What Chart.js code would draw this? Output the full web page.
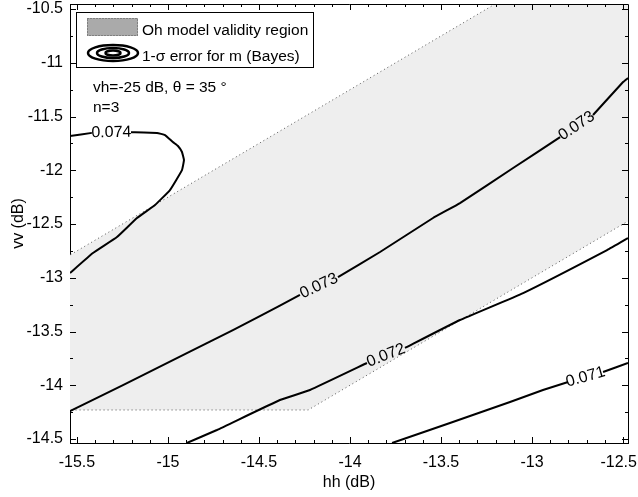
<!DOCTYPE html>
<html>
<head>
<meta charset="utf-8">
<script src="https://cdn.jsdelivr.net/npm/chart.js@4.4.1/dist/chart.umd.min.js"></script>
<style>
  html, body { margin: 0; padding: 0; background: #fff; }
</style>
</head>
<body>
<canvas id="chart" width="638" height="497"></canvas>
<script>
// axis ticks
const xTicks = [-15.5, -15, -14.5, -14, -13.5, -13, -12.5];
const yTicks = [-10.5, -11, -11.5, -12, -12.5, -13, -13.5, -14, -14.5];

// Oh model validity region (hh, vv), outline runs past the axes and gets clipped
const regionHh = [-15.80, -13.00, -12.20, -12.20, -14.23, -15.80];
const regionVv = [-13.05, -10.25, -10.25, -12.20, -14.23, -14.23];

// contour lines of the 1-sigma error, null = gap for the label
const c074Hh = [-15.538, -15.418, null, -15.203, -15.060, -15.016, -14.973, -14.945, -14.923, -14.912, -14.923, -14.989, -15.071, -15.170, -15.280, -15.412, -15.538];
const c074Vv = [-11.681, -11.652, null, -11.646, -11.653, -11.672, -11.737, -11.774, -11.830, -11.905, -11.998, -12.184, -12.323, -12.444, -12.621, -12.770, -12.956];

const c073Hh = [-15.538, -15.247, -14.896, -14.643, -14.495, -14.275, null, -14.066, -13.835, -13.544, -13.396, -13.104, -12.846, null, -12.665, -12.500, -12.473];
const c073Vv = [-14.240, -13.998, -13.700, -13.486, -13.356, -13.160, null, -12.993, -12.760, -12.444, -12.305, -11.979, -11.691, null, -11.486, -11.179, -11.142];

const c072Hh = [-14.896, -14.731, -14.385, -14.220, -13.907, null, -13.698, -13.396, -13.049, -12.588, -12.473];
const c072Vv = [-14.537, -14.416, -14.137, -14.044, -13.793, null, -13.653, -13.393, -13.142, -12.742, -12.630];

const c071Hh = [-13.769, -13.451, -13.121, -12.940, -12.802, null, -12.610, -12.473];
const c071Vv = [-14.537, -14.351, -14.156, -14.044, -13.970, null, -13.877, -13.793];

const contourLevels = ['0.074', '0.073', '0.072', '0.071'];
const legendLabels = ['Oh model validity region', '1-\u03c3 error for m (Bayes)'];
const noteLines = ['vh=-25 dB, \u03b8 = 35 \u00b0', 'n=3'];

const FONT = { family: '"Liberation Sans", Arial, sans-serif', size: 16 };
const fontStr = FONT.size + 'px ' + FONT.family;
const legendFont = '15.5px ' + FONT.family;

const toPoints = (hh, vv) => hh.map((h, i) => ({ x: h, y: vv[i] }));

const contourSets = [
  [c074Hh, c074Vv], [c073Hh, c073Vv], [c072Hh, c072Vv], [c071Hh, c071Vv]
].map(([h, v], i) => ({
  label: contourLevels[i],
  data: toPoints(h, v),
  showLine: true,
  borderColor: '#000',
  borderWidth: 2,
  tension: 0.1,
  pointRadius: 0,
  spanGaps: false,
  fill: false,
  order: 0
}));

// draws the matlab-like frame, inward ticks, legend, notes and contour labels
const decor = {
  id: 'decor',
  afterDatasetsDraw(chart) {
    const { ctx, chartArea: a, scales: { x, y } } = chart;
    ctx.save();
    ctx.strokeStyle = '#000';
    ctx.lineWidth = 1;
    ctx.beginPath();
    ctx.moveTo(a.left, a.top + 0.5);
    ctx.lineTo(a.right + 0.5, a.top + 0.5);
    ctx.lineTo(a.right + 0.5, a.bottom);
    ctx.stroke();

    // inward ticks
    ctx.beginPath();
    for (let i = 0; i <= 30; i++) {
      const v = xTicks[0] + i * 0.1;
      const px = Math.round(x.getPixelForValue(v)) + 0.5;
      const len = i % 5 === 0 ? 6 : 3;
      ctx.moveTo(px, a.bottom); ctx.lineTo(px, a.bottom - len);
      ctx.moveTo(px, a.top); ctx.lineTo(px, a.top + len);
    }
    for (let i = 0; i <= 16; i++) {
      const v = yTicks[0] - i * 0.25;
      const py = Math.round(y.getPixelForValue(v)) + 0.5;
      const len = i % 2 === 0 ? 6 : 3;
      ctx.moveTo(a.left, py); ctx.lineTo(a.left + len, py);
      ctx.moveTo(a.right, py); ctx.lineTo(a.right - len, py);
    }
    ctx.stroke();

    // contour labels go in the gaps of the lines
    ctx.fillStyle = '#000';
    ctx.font = fontStr;
    ctx.textAlign = 'center';
    ctx.textBaseline = 'middle';
    chart.data.datasets.forEach((ds) => {
      if (!contourLevels.includes(ds.label)) return;
      ds.data.forEach((p, i) => {
        if (p.y !== null) return;
        const p1 = ds.data[i - 1], p2 = ds.data[i + 1];
        const x1 = x.getPixelForValue(p1.x), y1 = y.getPixelForValue(p1.y);
        const x2 = x.getPixelForValue(p2.x), y2 = y.getPixelForValue(p2.y);
        let ang = Math.atan2(y2 - y1, x2 - x1);
        if (Math.abs(ang) > Math.PI / 2) ang += Math.PI;
        ctx.save();
        ctx.translate((x1 + x2) / 2, (y1 + y2) / 2);
        ctx.rotate(ang);
        ctx.fillText(ds.label, 0, 0);
        ctx.restore();
      });
    });

    // legend
    const lx = a.left + 6, ly = a.top + 8;
    ctx.fillStyle = '#fff';
    ctx.fillRect(lx, ly, 237, 55);
    ctx.strokeStyle = '#000';
    ctx.lineWidth = 1;
    ctx.strokeRect(lx + 0.5, ly + 0.5, 237, 55);
    ctx.fillStyle = '#aaaaaa';
    ctx.fillRect(lx + 11, ly + 6, 51, 18);
    ctx.setLineDash([1, 2]);
    ctx.strokeStyle = '#555';
    ctx.strokeRect(lx + 11.5, ly + 6.5, 50, 17);
    ctx.setLineDash([]);
    ctx.strokeStyle = '#000';
    ctx.lineWidth = 2.5;
    [[25, 8], [16, 5], [7.5, 2.5]].forEach(([rx, ry]) => {
      ctx.beginPath();
      ctx.ellipse(lx + 37, ly + 41, rx, ry, 0, 0, Math.PI * 2);
      ctx.stroke();
    });
    ctx.fillStyle = '#000';
    ctx.textAlign = 'left';
    ctx.font = legendFont;
    ctx.fillText(legendLabels[0], lx + 66, ly + 19);
    ctx.fillText(legendLabels[1], lx + 66, ly + 45);

    // notes
    ctx.fillText(noteLines[0], a.left + 23, a.top + 84);
    ctx.fillText(noteLines[1], a.left + 23, a.top + 104);
    ctx.restore();
  }
};

new Chart(document.getElementById('chart'), {
  type: 'scatter',
  data: {
    datasets: [
      {
        label: 'region',
        data: toPoints(regionHh, regionVv),
        showLine: true,
        fill: 'shape',
        backgroundColor: '#eeeeee',
        borderColor: '#555',
        borderWidth: 1,
        borderDash: [1, 3],
        pointRadius: 0,
        order: 1
      },
      ...contourSets
    ]
  },
  options: {
    responsive: false,
    animation: false,
    layout: { padding: { top: 4, right: 10, left: 0, bottom: 0 } },
    plugins: { legend: { display: false }, tooltip: { enabled: false } },
    scales: {
      x: {
        type: 'linear',
        min: -15.538,
        max: -12.473,
        afterBuildTicks: s => { s.ticks = xTicks.map(v => ({ value: v })); },
        afterFit: s => { s.height = 54; s.paddingLeft = 0; s.paddingRight = 0; },
        grid: { display: false, drawTicks: false },
        border: { display: true, color: '#000', width: 1 },
        ticks: {
          font: FONT, color: '#000', padding: 10, maxRotation: 0, autoSkip: false,
          // last label nudged left so it stays on the canvas
          callback: (v, i, t) => i === t.length - 1 ? String(v) + '  ' : String(v)
        },
        title: { display: true, text: 'hh (dB)', font: FONT, color: '#000', padding: { top: 0, bottom: 5 } }
      },
      y: {
        type: 'linear',
        min: -14.537,
        max: -10.453,
        afterBuildTicks: s => { s.ticks = yTicks.map(v => ({ value: v })); },
        afterFit: s => { s.width = 70; s.paddingTop = 0; s.paddingBottom = 0; },
        grid: { display: false, drawTicks: false },
        border: { display: true, color: '#000', width: 1 },
        ticks: { font: FONT, color: '#000', padding: 7, autoSkip: false, callback: v => String(v) },
        title: { display: true, text: 'vv (dB)', font: FONT, color: '#000', padding: { top: 9, bottom: 0 } }
      }
    }
  },
  plugins: [decor]
});
</script>
</body>
</html>
